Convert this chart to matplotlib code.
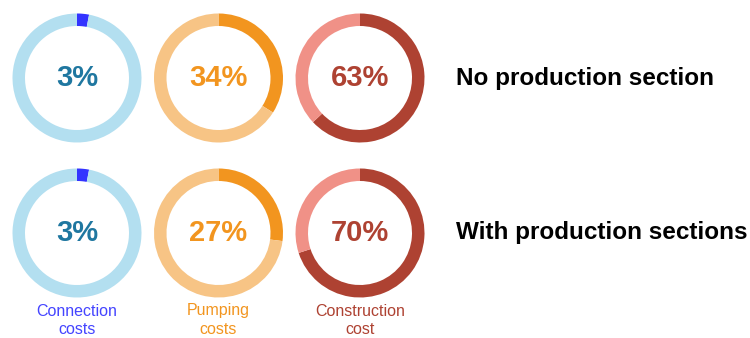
import matplotlib.pyplot as plt

plt.rcParams['font.family'] = ['Liberation Sans', 'DejaVu Sans']

# cost shares (%) for each scenario
categories = ['Connection\ncosts', 'Pumping\ncosts', 'Construction\ncost']
no_section = [3, 34, 63]
with_sections = [3, 27, 70]
row_titles = ['No production section', 'With production sections']

dark_colors = ['#3333ff', '#f2951f', '#ae4232']
light_colors = ['#b3dff0', '#f7c485', '#f09187']
pct_colors = ['#1f77a0', '#f2951f', '#ae4232']
label_colors = ['#4444ff', '#f2951f', '#ae4232']

W, H = 750, 338
fig = plt.figure(figsize=(W / 100, H / 100), dpi=100)

col_x = [77, 218.5, 360]
row_y = [78, 233]
r = 64.5

for row, values in enumerate([no_section, with_sections]):
    for col, v in enumerate(values):
        cx, cy = col_x[col], row_y[row]
        ax = fig.add_axes([(cx - r) / W, 1 - (cy + r) / H, 2 * r / W, 2 * r / H])
        ax.pie([v, 100 - v], colors=[dark_colors[col], light_colors[col]],
               startangle=90, counterclock=False, radius=1,
               wedgeprops=dict(width=12.5 / r, linewidth=0))
        ax.set_xlim(-1, 1)
        ax.set_ylim(-1, 1)
        ax.set_aspect('equal')
        ax.axis('off')
        ax.text(0, 0, f'{v}%', ha='center', va='center', fontsize=21,
                fontweight='bold', color=pct_colors[col])
    fig.text(456 / W, 1 - row_y[row] / H, row_titles[row], ha='left',
             va='center', fontsize=17.5, fontweight='bold', color='black')

for col, name in enumerate(categories):
    fig.text(col_x[col] / W, 1 - 320 / H, name, ha='center', va='center',
             fontsize=11.5, color=label_colors[col], linespacing=1.25)

fig.savefig('out.png', dpi=100)
